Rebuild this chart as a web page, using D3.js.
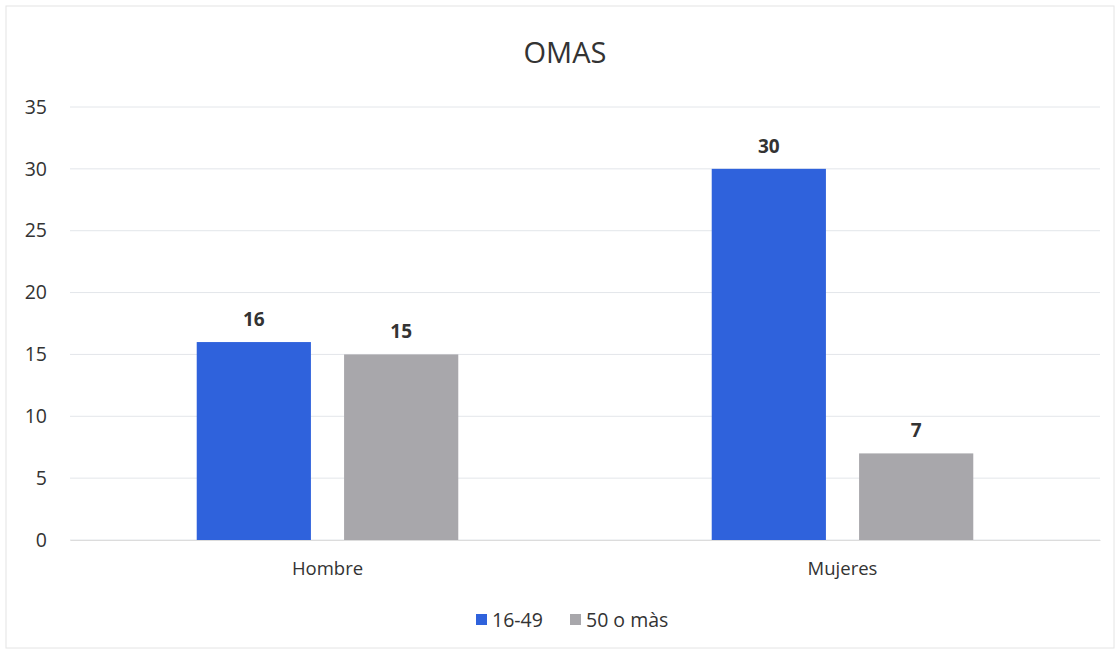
<!DOCTYPE html>
<html><head><meta charset="utf-8">
<script src="https://cdn.jsdelivr.net/npm/d3@7"></script>
<style>body{margin:0;background:#fff;font-family:"Open Sans","Noto Sans",sans-serif;}</style>
</head><body><svg id="c" width="1119" height="653"></svg>
<script>
const categories = ["Hombre", "Mujeres"];
const seriesNames = ["16-49", "50 o màs"];
const values1649 = [16, 30];
const values50 = [15, 7];
const yTicks = [0, 5, 10, 15, 20, 25, 30, 35];
const colors = ["#2f62dc", "#a8a7ab"];

(function(){
const svg = d3.select("#c");
svg.append("rect").attr("x",6).attr("y",6).attr("width",1108).attr("height",642)
  .attr("fill","#fff").attr("stroke","#e4e4e4");

const pLeft = 70, pRight = 1100, pTop = 107, pBottom = 540;
const x0 = d3.scaleBand().domain(categories).range([pLeft, pRight]).paddingInner(0).paddingOuter(0);
const x1 = d3.scaleBand().domain(seriesNames).range([0, x0.bandwidth()]).paddingInner(0.225).paddingOuter(0.86);
const y = d3.scaleLinear().domain([0, 35]).range([pBottom, pTop]);

svg.append("g").selectAll("line").data(yTicks).join("line")
  .attr("x1", pLeft).attr("x2", pRight)
  .attr("y1", d => y(d)).attr("y2", d => y(d))
  .attr("stroke", "#e3e6ea").attr("stroke-width", 1);

const yAxis = svg.append("g").attr("transform", `translate(${pLeft-5},0)`)
  .call(d3.axisLeft(y).tickValues(yTicks).tickSize(0).tickPadding(18));
yAxis.select(".domain").remove();
yAxis.selectAll("text").attr("font-size", 19.5).attr("fill", "#333")
  .attr("font-family", '"Open Sans","Noto Sans",sans-serif');

const data = categories.map((c, i) => ({c, vals: [values1649[i], values50[i]]}));
const g = svg.append("g").selectAll("g").data(data).join("g")
  .attr("transform", d => `translate(${x0(d.c)},0)`);
g.selectAll("rect").data(d => d.vals.map((v, j) => ({s: seriesNames[j], v, j}))).join("rect")
  .attr("x", d => x1(d.s)).attr("width", x1.bandwidth())
  .attr("y", d => y(d.v)).attr("height", d => y(0) - y(d.v))
  .attr("fill", d => colors[d.j]);
g.selectAll("text").data(d => d.vals.map((v, j) => ({s: seriesNames[j], v, j}))).join("text")
  .attr("x", d => x1(d.s) + x1.bandwidth()/2).attr("y", d => y(d.v) - 16)
  .attr("text-anchor", "middle").attr("font-size", 19).attr("font-weight", "bold")
  .attr("fill", "#333").text(d => d.v);

const xAxis = svg.append("g").attr("transform", `translate(0,${pBottom})`)
  .call(d3.axisBottom(x0).tickSize(0).tickPadding(22));
xAxis.select(".domain").attr("stroke", "#dcdcdc");
xAxis.selectAll("text").attr("font-size", 18.5).attr("fill", "#333")
  .attr("font-family", '"Open Sans","Noto Sans",sans-serif');

svg.append("text").attr("x", 565).attr("y", 63).attr("text-anchor", "middle")
  .attr("font-size", 29).attr("fill", "#333").text("OMAS");

const legend = svg.append("g").attr("transform", "translate(476,620)");
const lx = [0, 94];
seriesNames.forEach((s, i) => {
  legend.append("rect").attr("x", lx[i]).attr("y", -6).attr("width", 11).attr("height", 11).attr("fill", colors[i]);
  legend.append("text").attr("x", lx[i] + 16).attr("y", 7).attr("font-size", 19.5).attr("fill", "#333").text(s);
});
})();
</script></body></html>
